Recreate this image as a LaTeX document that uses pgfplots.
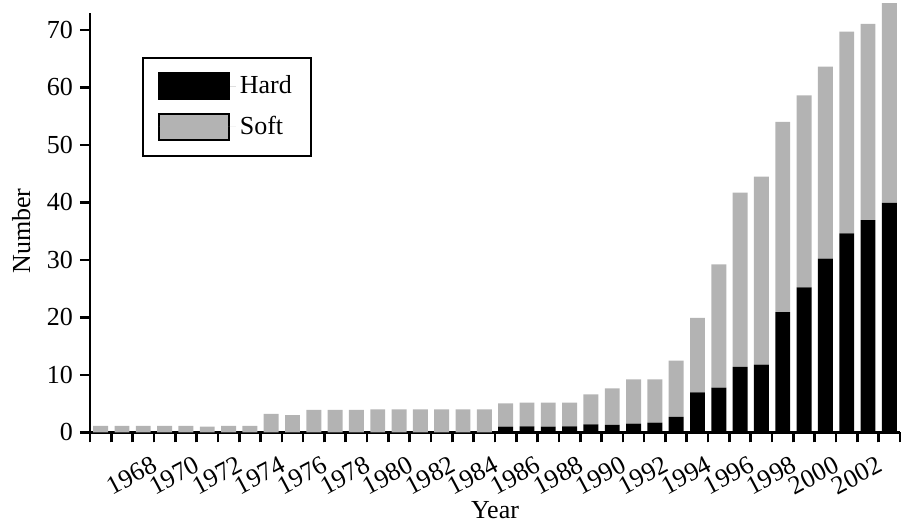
\documentclass[border=0pt]{standalone}
\usepackage{pgfplots}
\pgfplotsset{compat=1.18}
\usepackage{fontspec}
\setmainfont{Liberation Serif}
\definecolor{softgray}{RGB}{179,179,179}
\newcommand{\cf}{\fontsize{13}{15}\selectfont}
\begin{document}
\begin{tikzpicture}
\begin{axis}[
  scale only axis,
  width=405pt, height=209.8pt,
  xmin=1965, xmax=2003, ymin=0, ymax=73,
  clip=false,
  axis lines*=left,
  axis line style={line width=1.3pt},
  tick style={line width=1.3pt, black},
  tick align=outside,
  major tick length=5pt, minor tick length=5pt,
  xtick={1968,1970,...,2002},
  minor xtick={1965,...,2003},
  ytick={0,10,...,70},
  /pgf/number format/assume math mode=true,
  xticklabel={\pgfmathprintnumber[1000 sep={}]{\tick}},
  xticklabel style={rotate=28, anchor=north east, font=\cf, xshift=-1pt, yshift=-1.5pt},
  yticklabel style={font=\cf},
  xlabel={Year}, ylabel={Number},
  xlabel style={at={(axis description cs:0.5,-0.206)}, anchor=base, font=\cf},
  ylabel style={at={(axis description cs:-0.085,0.4795)}, anchor=center, font=\cf},
  ybar stacked, bar width=0.7,
  legend style={at={(axis description cs:0.064,0.895)}, anchor=north west, draw=black, line width=1pt,
    font=\cf, inner xsep=7.5pt, inner ysep=7pt, row sep=5.75pt},
  legend cell align=left,
]
\addplot[fill=black, draw=none,
  legend image code/.code={\draw[fill=black,draw=black,line width=1pt] (0pt,-6.5pt) rectangle (35pt,6.5pt); \path (0pt,0pt) -- (38.5pt,0pt);}]
 coordinates {
 (1965.5,0) (1966.5,0) (1967.5,0) (1968.5,0) (1969.5,0) (1970.5,0) (1971.5,0) (1972.5,0)
 (1973.5,0) (1974.5,0) (1975.5,0) (1976.5,0) (1977.5,0) (1978.5,0) (1979.5,0) (1980.5,0)
 (1981.5,0) (1982.5,0) (1983.5,0)
 (1984.5,1.0) (1985.5,1.04) (1986.5,1.0) (1987.5,1.05) (1988.5,1.4) (1989.5,1.3)
 (1990.5,1.5) (1991.5,1.67) (1992.5,2.7) (1993.5,6.96) (1994.5,7.76) (1995.5,11.4)
 (1996.5,11.76) (1997.5,20.9) (1998.5,25.2) (1999.5,30.2) (2000.5,34.6) (2001.5,36.9)
 (2002.5,39.9)
 };
\addlegendentry{Hard}
\addplot[fill=softgray, draw=none,
  legend image code/.code={\draw[fill=softgray,draw=black,line width=1pt] (0pt,-6.5pt) rectangle (35pt,6.5pt); \path (0pt,0pt) -- (38.5pt,0pt);}]
 coordinates {
 (1965.5,1.1) (1966.5,1.1) (1967.5,1.1) (1968.5,1.1) (1969.5,1.1) (1970.5,1.0) (1971.5,1.1) (1972.5,1.1)
 (1973.5,3.2) (1974.5,3.0) (1975.5,3.9) (1976.5,3.9) (1977.5,3.9) (1978.5,4.0) (1979.5,4.0) (1980.5,4.0)
 (1981.5,4.0) (1982.5,4.0) (1983.5,4.0)
 (1984.5,4.05) (1985.5,4.11) (1986.5,4.15) (1987.5,4.1) (1988.5,5.2) (1989.5,6.35)
 (1990.5,7.7) (1991.5,7.53) (1992.5,9.75) (1993.5,12.94) (1994.5,21.44) (1995.5,30.3)
 (1996.5,32.74) (1997.5,33.1) (1998.5,33.4) (1999.5,33.4) (2000.5,35.1) (2001.5,34.15)
 (2002.5,34.75)
 };
\addlegendentry{Soft}
\coordinate (bbA) at (rel axis cs:-0.1111,-0.2138);
\coordinate (bbB) at (rel axis cs:1.00123,1.0303);
\end{axis}
\pgfresetboundingbox
\path[use as bounding box] (bbA) rectangle (bbB);
\end{tikzpicture}
\end{document}
